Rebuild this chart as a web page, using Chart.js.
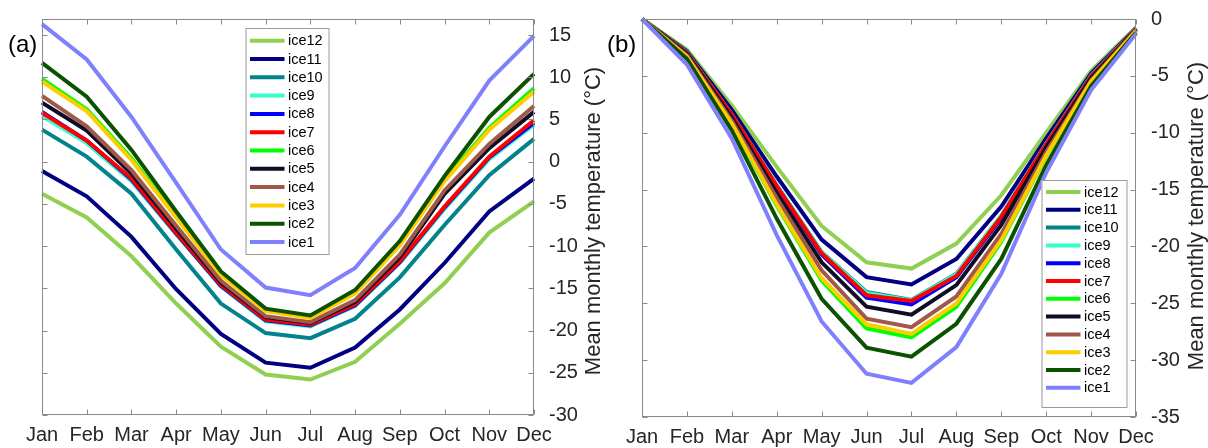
<!DOCTYPE html>
<html>
<head>
<meta charset="utf-8">
<script src="https://cdn.jsdelivr.net/npm/chart.js@4.4.1/dist/chart.umd.min.js"></script>
<style>
    html, body { margin: 0; padding: 0; background: #fff; }
    #wrap { position: relative; width: 1208px; height: 448px; overflow: hidden; }
    canvas { position: absolute; top: 0; }
    #chartA { left: 0; }
    #chartB { left: 598px; }
</style>
</head>
<body>
<div id="wrap">
    <canvas id="chartA" width="610" height="448"></canvas>
    <canvas id="chartB" width="610" height="448"></canvas>
</div>
<script>
    "use strict";

    const months = ['Jan', 'Feb', 'Mar', 'Apr', 'May', 'Jun', 'Jul', 'Aug', 'Sep', 'Oct', 'Nov', 'Dec'];
    const iceNames = ['ice1', 'ice2', 'ice3', 'ice4', 'ice5', 'ice6', 'ice7', 'ice8', 'ice9', 'ice10', 'ice11', 'ice12'];
    const iceColors = ['#8080ff', '#0b5200', '#ffcc00', '#a0584a', '#0d0d26', '#00ff00',
        '#ff0000', '#0000ff', '#33ffcc', '#00838a', '#000080', '#90d050'];

    // panel (a)
    const a_ice1 = [16.3, 12.1, 5.3, -2.5, -10.4, -14.9, -15.8, -12.6, -6.3, 1.8, 9.6, 14.9];
    const a_ice2 = [11.7, 7.7, 1.4, -5.9, -13.0, -17.4, -18.2, -15.2, -9.4, -1.7, 5.3, 10.4];
    const a_ice3 = [9.5, 6.0, 0.2, -6.6, -13.4, -17.7, -18.5, -15.6, -9.9, -2.3, 3.8, 8.3];
    const a_ice4 = [7.8, 4.2, -1.0, -7.6, -14.1, -18.3, -19.0, -16.4, -11.0, -3.4, 2.1, 6.6];
    const a_ice5 = [7.0, 3.7, -1.4, -7.9, -14.3, -18.4, -19.1, -16.6, -11.3, -3.8, 1.6, 5.9];
    const a_ice6 = [9.8, 6.2, 0.4, -6.5, -13.3, -17.6, -18.4, -15.5, -9.8, -2.1, 4.0, 8.7];
    const a_ice7 = [5.8, 2.5, -2.0, -8.4, -14.6, -18.7, -19.3, -16.9, -11.8, -5.3, 0.6, 4.9];
    const a_ice8 = [5.9, 2.5, -2.1, -8.5, -14.7, -18.8, -19.4, -17.0, -11.9, -5.4, 0.5, 4.6];
    const a_ice9 = [5.4, 2.2, -2.3, -8.6, -14.8, -18.9, -19.5, -17.1, -12.0, -5.6, 0.3, 4.4];
    const a_ice10 = [3.8, 0.6, -3.8, -10.4, -16.8, -20.3, -20.9, -18.6, -13.7, -7.5, -1.6, 2.7];
    const a_ice11 = [-1.1, -4.1, -8.9, -15.1, -20.4, -23.8, -24.4, -22.0, -17.5, -12.0, -5.9, -2.0];
    const a_ice12 = [-3.8, -6.6, -11.2, -16.8, -21.9, -25.2, -25.8, -23.7, -19.2, -14.4, -8.4, -4.7];

    // panel (b)
    const b_ice1 = [0, -4.0, -10.5, -19.0, -26.6, -31.2, -32.0, -28.85, -22.4, -13.5, -6.25, -1.3];
    const b_ice2 = [0, -3.5, -9.8, -17.55, -24.6, -28.9, -29.7, -26.8, -21.1, -12.85, -5.9, -1.2];
    const b_ice3 = [0, -3.3, -9.2, -16.3, -22.8, -26.85, -27.7, -25.0, -19.45, -12.0, -5.5, -1.05];
    const b_ice4 = [0, -3.2, -8.95, -15.75, -22.1, -26.35, -27.1, -24.4, -18.9, -11.7, -5.4, -1.0];
    const b_ice5 = [0, -3.1, -8.7, -15.3, -21.4, -25.3, -26.0, -23.4, -18.1, -11.3, -5.2, -0.95];
    const b_ice6 = [0, -3.35, -9.25, -16.4, -23.0, -27.2, -28.0, -25.3, -19.6, -12.05, -5.55, -1.1];
    const b_ice7 = [0, -3.0, -8.4, -14.7, -20.6, -24.3, -24.8, -22.6, -17.4, -11.0, -5.05, -0.9];
    const b_ice8 = [0, -3.0, -8.45, -14.75, -20.7, -24.5, -25.1, -22.7, -17.5, -11.05, -5.05, -0.9];
    const b_ice9 = [0, -2.95, -8.4, -14.6, -20.5, -24.1, -24.75, -22.45, -17.3, -10.95, -5.0, -0.85];
    const b_ice10 = [0, -2.95, -8.4, -14.6, -20.5, -24.0, -24.7, -22.4, -17.3, -10.95, -5.0, -0.85];
    const b_ice11 = [0, -2.85, -8.0, -13.85, -19.4, -22.7, -23.35, -21.1, -16.5, -10.5, -4.8, -0.8];
    const b_ice12 = [0, -2.7, -7.6, -13.0, -18.2, -21.4, -21.95, -19.75, -15.5, -10.0, -4.55, -0.75];

    const yTicksA = [-30, -25, -20, -15, -10, -5, 0, 5, 10, 15];
    const yTicksB = [-35, -30, -25, -20, -15, -10, -5, 0];
    const yTitle = 'Mean monthly temperature (\u00B0C)';

    const FONT = "'Liberation Sans', Arial, Helvetica, sans-serif";
    const TEXT = '#262626';
    const AXIS = '#8a8a8a';

    function decoPlugin(cfg) {
        return {
            id: 'deco',
            afterDraw: function(chart) {
                const ctx = chart.ctx, area = chart.chartArea;
                const xs = chart.scales.x, ys = chart.scales.y;
                ctx.save();

                // legend box
                const lg = cfg.legend;
                ctx.fillStyle = '#fff';
                ctx.fillRect(lg.left, lg.top, lg.width, lg.height);
                ctx.strokeStyle = '#9a9a9a';
                ctx.lineWidth = 1;
                ctx.strokeRect(lg.left + 0.5, lg.top + 0.5, lg.width, lg.height);
                ctx.font = '14.5px ' + FONT;
                ctx.textBaseline = 'middle';
                ctx.textAlign = 'left';
                for (let k = 0; k < iceNames.length; k++) {
                    const i = iceNames.length - 1 - k;
                    const y = lg.firstRow + k * lg.rowGap;
                    ctx.strokeStyle = iceColors[i];
                    ctx.lineWidth = 4;
                    ctx.beginPath();
                    ctx.moveTo(lg.left + 4.5, y);
                    ctx.lineTo(lg.left + 39, y);
                    ctx.stroke();
                    ctx.fillStyle = '#000';
                    ctx.fillText(iceNames[i], lg.left + 42.5, y + 0.5);
                }

                // frame with inward ticks
                ctx.strokeStyle = AXIS;
                ctx.lineWidth = 1;
                const L = Math.round(area.left) + 0.5, R = Math.round(area.right) - 0.5;
                const T = Math.round(area.top) + 0.5, B = Math.round(area.bottom) - 0.5;
                ctx.strokeRect(L, T, R - L, B - T);
                ctx.beginPath();
                months.forEach(function(m, i) {
                    const x = Math.round(xs.getPixelForValue(i)) + 0.5;
                    ctx.moveTo(x, T); ctx.lineTo(x, T + 5);
                    ctx.moveTo(x, B); ctx.lineTo(x, B - 5);
                });
                cfg.yTicks.forEach(function(v) {
                    const y = Math.round(ys.getPixelForValue(v)) + 0.5;
                    ctx.moveTo(L, y); ctx.lineTo(L + 5, y);
                    ctx.moveTo(R, y); ctx.lineTo(R - 5, y);
                });
                ctx.stroke();

                // panel label
                ctx.fillStyle = '#000';
                ctx.font = '24px ' + FONT;
                ctx.textAlign = 'left';
                ctx.textBaseline = 'middle';
                ctx.fillText(cfg.panel, cfg.panelX, 45);

                // y title, reading bottom to top
                ctx.fillStyle = TEXT;
                ctx.font = '22px ' + FONT;
                ctx.translate(cfg.titleX, cfg.titleY);
                ctx.rotate(-Math.PI / 2);
                ctx.textAlign = 'center';
                ctx.textBaseline = 'alphabetic';
                ctx.fillText(yTitle, 0, 0);
                ctx.restore();
            }
        };
    }

    function makePanel(id, series, cfg) {
        return new Chart(document.getElementById(id), {
            type: 'line',
            data: {
                labels: months,
                datasets: series.map(function(vals, i) {
                    return {
                        label: iceNames[i],
                        data: vals,
                        borderColor: iceColors[i],
                        backgroundColor: iceColors[i],
                        borderWidth: 4,
                        pointRadius: 0,
                        tension: 0,
                        fill: false,
                        clip: false
                    };
                })
            },
            options: {
                responsive: false,
                animation: false,
                events: [],
                layout: { padding: { left: cfg.padLeft, top: 19, right: 0, bottom: 0 } },
                plugins: { legend: { display: false }, tooltip: { enabled: false } },
                scales: {
                    x: {
                        grid: { display: false },
                        border: { display: false },
                        ticks: { color: TEXT, font: { family: FONT, size: 20 }, padding: 0, maxRotation: 0, autoSkip: false },
                        afterFit: function(s) { s.height = cfg.xHeight; }
                    },
                    y: {
                        position: 'right',
                        min: cfg.yMin,
                        max: cfg.yMax,
                        grid: { display: false },
                        border: { display: false },
                        ticks: { color: TEXT, font: { family: FONT, size: 20 }, padding: 7, stepSize: 5, includeBounds: false },
                        afterBuildTicks: function(s) { s.ticks = cfg.yTicks.map(function(v) { return { value: v }; }); },
                        afterFit: function(s) { s.width = cfg.yWidth; }
                    }
                }
            },
            plugins: [decoPlugin(cfg)]
        });
    }

    makePanel('chartA',
        [a_ice1, a_ice2, a_ice3, a_ice4, a_ice5, a_ice6, a_ice7, a_ice8, a_ice9, a_ice10, a_ice11, a_ice12], {
            padLeft: 42, xHeight: 33, yWidth: 76, yMin: -30, yMax: 16.9, yTicks: yTicksA,
            panel: '(a)', panelX: 8, titleX: 600, titleY: 221,
            legend: { left: 245.5, top: 28, width: 83, height: 226, firstRow: 40.7, rowGap: 18.3 }
        });

    makePanel('chartB',
        [b_ice1, b_ice2, b_ice3, b_ice4, b_ice5, b_ice6, b_ice7, b_ice8, b_ice9, b_ice10, b_ice11, b_ice12], {
            padLeft: 44, xHeight: 31, yWidth: 72, yMin: -35, yMax: 0, yTicks: yTicksB,
            panel: '(b)', panelX: 9, titleX: 605, titleY: 216,
            legend: { left: 443.5, top: 180, width: 85, height: 227, firstRow: 192, rowGap: 17.8 }
        });
</script>
</body>
</html>
